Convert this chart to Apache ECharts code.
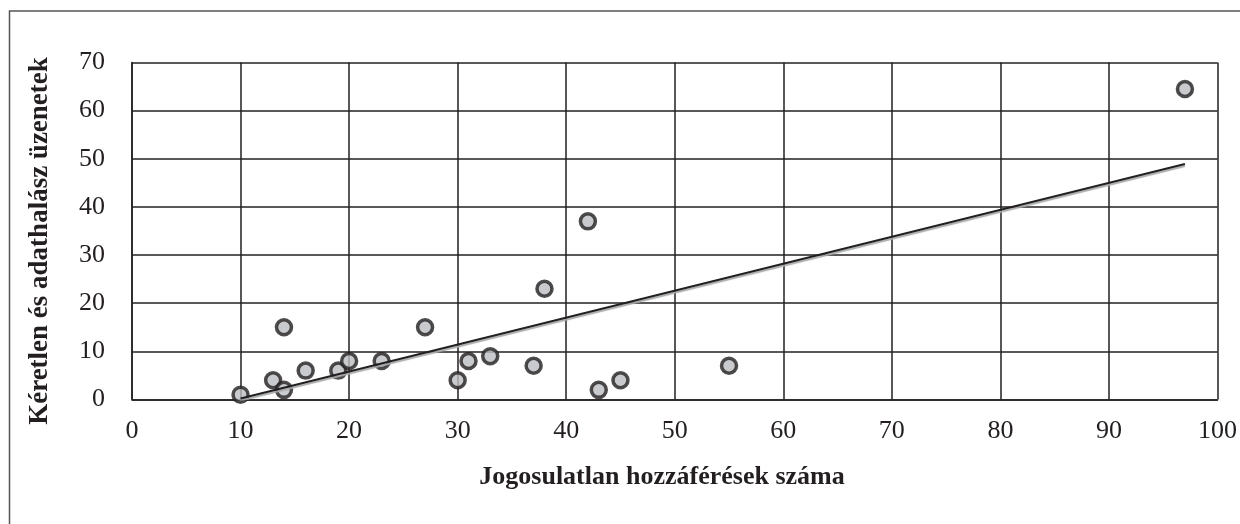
<!DOCTYPE html>
<html>
<head>
<meta charset="utf-8">
<script src="https://cdn.jsdelivr.net/npm/echarts@6/dist/echarts.min.js"></script>
<style>
  html, body { margin: 0; padding: 0; background: #fff; }
  #chart { width: 1240px; height: 524px; }
</style>
</head>
<body>
<div id="chart"></div>
<script>
// data
var accessX = [10, 13, 14, 14, 16, 19, 20, 23, 27, 30, 31, 33, 37, 38, 42, 43, 45, 55, 97];
var spamY   = [1, 4, 2, 15, 6, 6, 8, 8, 15, 4, 8, 9, 7, 23, 37, 2, 4, 7, 64.5];
var trendX = [10, 97];
var trendY = [0.2, 48.9];
var xTitle = 'Jogosulatlan hozzáférések száma';
var yTitle = 'Kéretlen és adathalász üzenetek';

var font = 'Liberation Serif';
var ink = '#231f20';

var points = accessX.map(function (x, i) { return [x, spamY[i]]; });
var trend = trendX.map(function (x, i) { return [x, trendY[i]]; });

var myChart = echarts.init(document.getElementById('chart'));
myChart.setOption({
  animation: false,
  backgroundColor: '#fff',
  grid: { left: 132, right: 19, top: 62.5, bottom: 124.5 },
  xAxis: {
    type: 'value',
    min: 0, max: 100, interval: 10,
    axisLine: { show: true, lineStyle: { color: ink, width: 1.5 } },
    axisTick: { show: false },
    axisLabel: { color: ink, fontFamily: font, fontSize: 26, margin: 19 },
    splitLine: { show: true, lineStyle: { color: ink, width: 1.5 } }
  },
  yAxis: {
    type: 'value',
    min: 0, max: 70, interval: 10,
    axisLine: { show: true, lineStyle: { color: ink, width: 1.5 } },
    axisTick: { show: false },
    axisLabel: { color: ink, fontFamily: font, fontSize: 26, margin: 27 },
    splitLine: { show: true, lineStyle: { color: ink, width: 1.5 } }
  },
  graphic: [
    {
      type: 'rect',
      shape: { x: 9.5, y: 11, width: 1300, height: 600 },
      style: { fill: 'none', stroke: '#555', lineWidth: 1.5 },
      silent: true
    },
    {
      type: 'text',
      x: 662, y: 477,
      style: {
        text: xTitle, fill: ink, font: 'bold 26px "Liberation Serif"',
        textAlign: 'center', textVerticalAlign: 'middle'
      }
    },
    {
      type: 'text',
      x: 40, y: 241,
      rotation: Math.PI / 2,
      style: {
        text: yTitle, fill: ink, font: 'bold 27px "Liberation Serif"',
        textAlign: 'center', textVerticalAlign: 'middle'
      }
    }
  ],
  series: [
    {
      type: 'scatter',
      data: points,
      symbol: 'circle',
      symbolSize: 15,
      itemStyle: { color: '#bcbdc0', borderColor: ink, borderWidth: 3.5 },
      z: 2
    },
    {
      type: 'line',
      data: trend,
      showSymbol: false,
      lineStyle: {
        color: ink, width: 2,
        shadowColor: '#a7a9ac', shadowOffsetY: 2, shadowBlur: 1
      },
      z: 3
    }
  ]
});
</script>
</body>
</html>
